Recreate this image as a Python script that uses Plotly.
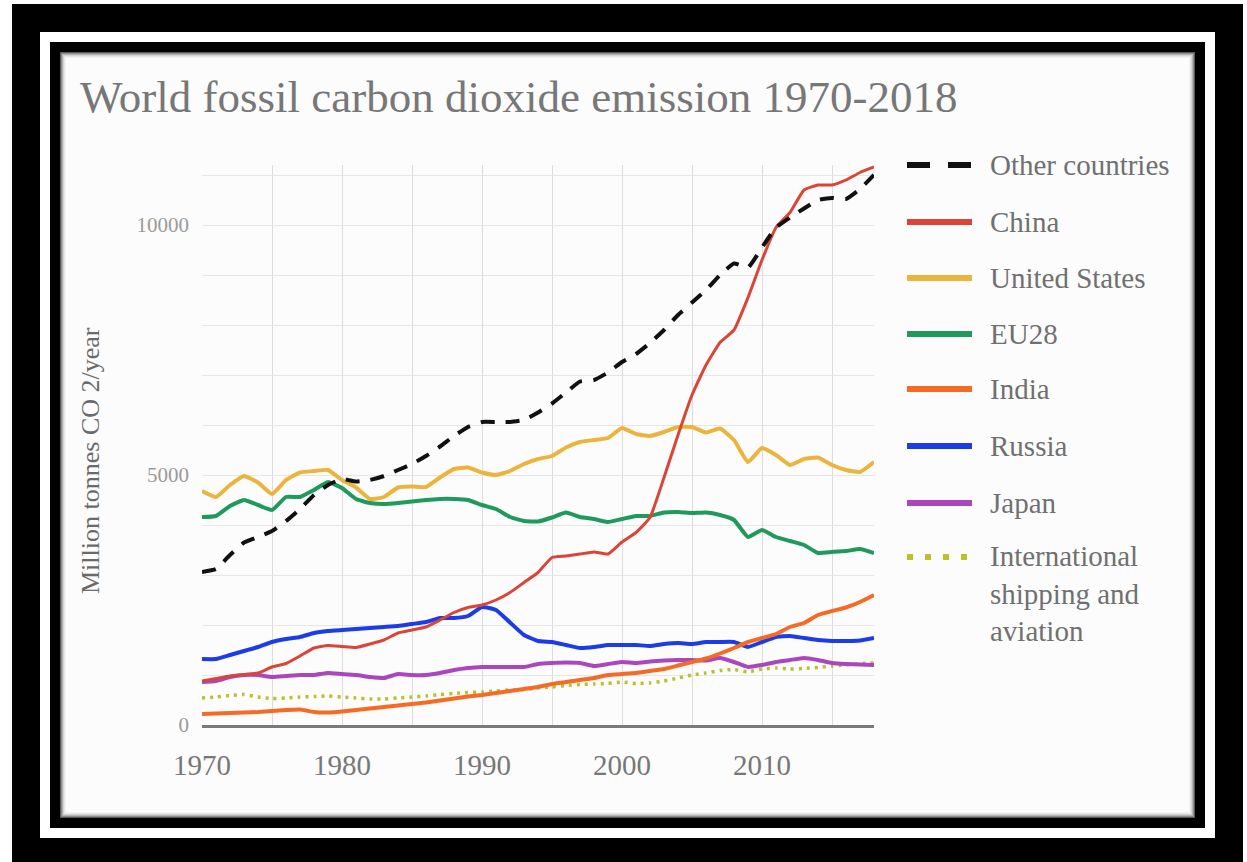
import plotly.graph_objects as go

# ---------------- data ----------------
years = list(range(1970, 2019))

other_countries = [3060, 3120, 3400, 3650, 3760, 3880, 4080, 4320, 4600, 4800,
                   4920, 4870, 4900, 4980, 5100, 5220, 5380, 5570, 5780, 5960,
                   6060, 6060, 6060, 6100, 6250, 6430, 6650, 6870, 6900, 7050,
                   7260, 7420, 7640, 7900, 8200, 8450, 8700, 9000, 9230, 9150,
                   9550, 9950, 10150, 10330, 10500, 10540, 10520, 10720, 11000]
china = [880, 930, 980, 1010, 1040, 1160, 1230, 1380, 1540, 1590,
         1570, 1550, 1620, 1700, 1840, 1900, 1960, 2100, 2250, 2350,
         2400, 2500, 2650, 2850, 3050, 3350, 3380, 3420, 3460, 3420,
         3660, 3850, 4150, 4950, 5800, 6600, 7200, 7650, 7900, 8550,
         9300, 9950, 10250, 10700, 10800, 10800, 10900, 11050, 11160]
united_states = [4680, 4560, 4800, 4980, 4850, 4620, 4900, 5050, 5080, 5100,
                 4900, 4750, 4520, 4560, 4750, 4770, 4760, 4950, 5120, 5150,
                 5050, 5000, 5080, 5220, 5320, 5380, 5550, 5660, 5700, 5740,
                 5940, 5820, 5780, 5860, 5960, 5960, 5850, 5930, 5700, 5260,
                 5540, 5400, 5200, 5320, 5350, 5200, 5100, 5060, 5260]
eu28 = [4160, 4180, 4380, 4500, 4400, 4300, 4560, 4560, 4700, 4860,
        4740, 4520, 4440, 4420, 4440, 4470, 4500, 4520, 4520, 4500,
        4400, 4320, 4160, 4080, 4070, 4150, 4250, 4160, 4120, 4060,
        4120, 4180, 4180, 4250, 4260, 4240, 4250, 4200, 4100, 3760,
        3900, 3760, 3680, 3600, 3440, 3460, 3480, 3520, 3440]
india = [220, 230, 240, 250, 260, 280, 300, 310, 260, 250,
         270, 300, 330, 360, 390, 420, 450, 490, 530, 570,
         600, 640, 680, 720, 760, 820, 860, 900, 940, 1000,
         1020, 1040, 1080, 1120, 1190, 1260, 1330, 1430, 1540, 1660,
         1740, 1820, 1960, 2040, 2200, 2280, 2350, 2460, 2600]
russia = [1320, 1320, 1400, 1480, 1560, 1660, 1720, 1760, 1840, 1880,
          1900, 1920, 1940, 1960, 1980, 2020, 2060, 2140, 2140, 2180,
          2360, 2300, 2050, 1800, 1680, 1660, 1600, 1540, 1560, 1600,
          1600, 1600, 1580, 1620, 1640, 1620, 1660, 1660, 1660, 1560,
          1660, 1760, 1780, 1740, 1700, 1680, 1680, 1690, 1740]
japan = [860, 880, 960, 1000, 1000, 960, 980, 1000, 1000, 1040,
         1020, 1000, 960, 940, 1020, 1000, 1000, 1040, 1100, 1140,
         1160, 1160, 1160, 1160, 1220, 1240, 1250, 1240, 1180, 1220,
         1260, 1240, 1270, 1290, 1300, 1300, 1290, 1340, 1260, 1160,
         1200, 1260, 1300, 1340, 1300, 1240, 1220, 1210, 1200]
shipping_aviation = [540, 560, 590, 610, 560, 530, 540, 560, 570, 580,
                     560, 540, 520, 520, 540, 560, 580, 610, 630, 650,
                     660, 680, 700, 710, 740, 760, 790, 810, 820, 830,
                     860, 830, 840, 880, 940, 1000, 1040, 1090, 1110, 1060,
                     1120, 1140, 1120, 1130, 1150, 1180, 1200, 1230, 1240]

series_names = ["Other countries", "China", "United States", "EU28",
                "India", "Russia", "Japan", "International shipping and aviation"]
legend_labels = ["Other countries", "China", "United States", "EU28",
                 "India", "Russia", "Japan", "International<br>shipping and<br>aviation"]
series_values = [other_countries, china, united_states, eu28,
                 india, russia, japan, shipping_aviation]

x_tick_vals = [1970, 1980, 1990, 2000, 2010]
x_tick_text = ["1970", "1980", "1990", "2000", "2010"]
y_tick_vals = [0, 5000, 10000]
y_tick_text = ["0", "5000", "10000"]

title_text = "World fossil carbon dioxide emission 1970-2018"
y_title_text = "Million tonnes CO 2/year"

# ---------------- styles ----------------
colors = ["#111111", "#db4437", "#ecb43c", "#1f9a5c", "#f56b25",
          "#1b3ce6", "#ab47bc", "#b9c22e"]
dashes = ["14px,11px", "solid", "solid", "solid", "solid", "solid", "solid", "3px,5px"]
widths = [4, 3, 4, 4, 4, 4, 4, 3.5]

W, H = 1247, 862
PL, PR, PT, PB = 202, 874, 165, 725   # plot area in pixels


def px(xp):
    return (xp - PL) / (PR - PL)


def py(yp):
    return (PB - yp) / (PB - PT)


SERIF = "Liberation Serif, Times New Roman, serif"

fig = go.Figure()
order = [7, 6, 5, 4, 3, 2, 1, 0]
for i in order:
    fig.add_trace(go.Scatter(
        x=years, y=series_values[i], name=series_names[i], mode="lines",
        line=dict(color=colors[i], width=widths[i], dash=dashes[i],
                  shape="spline", smoothing=0.4),
        showlegend=False,
    ))

shapes = []


def rect(x0, y0, x1, y1, color):
    shapes.append(dict(type="rect", xref="paper", yref="paper", layer="below",
                       x0=px(x0), x1=px(x1), y0=py(y1), y1=py(y0),
                       fillcolor=color, line=dict(width=0)))


# picture frame
rect(12, 4, 1243, 862, "#000000")
rect(40, 32, 1215, 838, "#ffffff")
rect(50, 42, 1205, 828, "#000000")
shade = ["#5a5a5a", "#8c8c8c", "#b4b4b4", "#d2d2d2", "#e6e6e6", "#f3f3f3", "#fcfcfc"]
for k, c in enumerate(shade):
    rect(60 + k, 52 + k, 1195 - k, 818 - k, c)

annotations = []
# custom legend
leg_y = [165, 222, 278, 334, 389, 446, 503, 557]
for i, name in enumerate(legend_labels):
    yy = leg_y[i]
    shapes.append(dict(type="line", xref="paper", yref="paper", layer="above",
                       x0=px(907), x1=px(972), y0=py(yy), y1=py(yy),
                       line=dict(color=colors[i], width=6,
                                 dash=("23px,18px" if i == 0 else ("6px,12px" if i == 7 else "solid")))))
    if i == 7:
        annotations.append(dict(xref="paper", yref="paper", x=px(988), y=py(yy - 19),
                                xanchor="left", yanchor="top", align="left", showarrow=False,
                                text=name, font=dict(family=SERIF, size=29, color="#707070")))
    else:
        annotations.append(dict(xref="paper", yref="paper", x=px(988), y=py(yy),
                                xanchor="left", yanchor="middle", showarrow=False,
                                text=name, font=dict(family=SERIF, size=29, color="#707070")))

# title
annotations.append(dict(xref="paper", yref="paper", x=px(78), y=py(97),
                        xanchor="left", yanchor="middle", showarrow=False,
                        text=title_text, font=dict(family=SERIF, size=45, color="#777777")))
# y axis title
annotations.append(dict(xref="paper", yref="paper", x=px(90), y=py(461),
                        xanchor="center", yanchor="middle", showarrow=False, textangle=-90,
                        text=y_title_text, font=dict(family=SERIF, size=26, color="#6a6a6a")))

fig.update_layout(
    width=W, height=H,
    margin=dict(l=PL, r=W - PR, t=PT, b=H - PB, pad=0),
    paper_bgcolor="#ffffff",
    plot_bgcolor="#ffffff",
    shapes=shapes,
    annotations=annotations,
    showlegend=False,
    xaxis=dict(
        range=[1970, 2018], tickvals=x_tick_vals, ticktext=x_tick_text,
        showgrid=True, gridcolor="#dcdcdc", gridwidth=1.3,
        minor=dict(dtick=5, tick0=1970, showgrid=True, gridcolor="#dcdcdc", gridwidth=1.3),
        showline=True, linecolor="#7a7a7a", linewidth=3,
        zeroline=False, ticks="", ticklabelstandoff=12,
        tickfont=dict(family=SERIF, size=29, color="#777777"),
    ),
    yaxis=dict(
        range=[0, 11200], tickvals=y_tick_vals, ticktext=y_tick_text,
        showgrid=True, gridcolor="#e6e6e6", gridwidth=1.3,
        minor=dict(dtick=1000, tick0=0, showgrid=True, gridcolor="#e6e6e6", gridwidth=1.3),
        showline=False, zeroline=False, ticks="", ticklabelstandoff=12,
        tickfont=dict(family=SERIF, size=21, color="#9a9a9a"),
    ),
)

fig.write_html("out.html", config={"displayModeBar": False},
               post_script="document.body.style.margin='0';document.body.style.overflow='hidden';")
